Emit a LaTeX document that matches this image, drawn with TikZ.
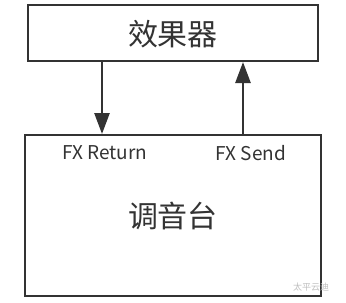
\documentclass[tikz,border=0pt]{standalone}
\usepackage{fontspec}
\setmainfont{Noto Sans CJK SC}
\usetikzlibrary{arrows.meta}
\definecolor{ink}{HTML}{333333}
\tikzset{
  box/.style={draw=ink, line width=2.6pt},
  link/.style={draw=ink, line width=2.6pt, -{Triangle[length=21pt,width=15pt]}},
  lbl/.style={text=ink, font=\fontsize{19}{22}\selectfont, inner sep=0pt},
  big/.style={text=ink, font=\fontsize{30}{34}\selectfont, inner sep=0pt},
}
\begin{document}
\begin{tikzpicture}[x=1pt,y=-1pt]
\useasboundingbox (0,0) rectangle (346,303);
\fill[white] (0,0) rectangle (346,303);
\draw[box] (28,5) rectangle (318,61);
\draw[box] (25,135) rectangle (321,296);
\node[big] (fx) at (173,34) {效果器};
\node[big] (mix) at (173,216) {调音台};
\node[lbl] (ret) at (105,153) {FX Return};
\node[lbl] (snd) at (251,153) {FX Send};
\coordinate (a1) at (102,61);
\coordinate (a2) at (102,134);
\coordinate (b1) at (243,135);
\coordinate (b2) at (243,62);
\draw[link] (a1) -- (a2);
\draw[link] (b1) -- (b2);
\node[text=black!25, font=\fontsize{9}{10}\selectfont, inner sep=0pt] (wm) at (311,287) {太平云迪};
\end{tikzpicture}
\end{document}
